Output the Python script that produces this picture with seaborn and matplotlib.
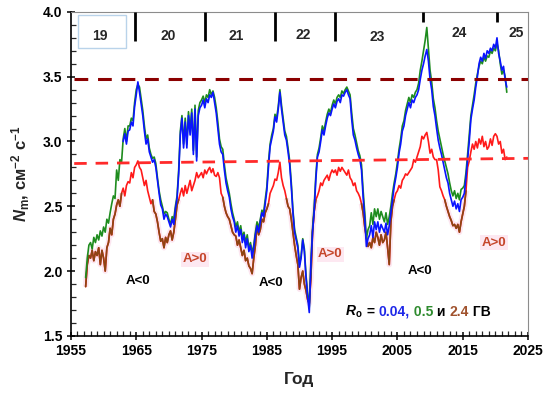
import numpy as np
import pandas as pd
import matplotlib
matplotlib.use("Agg")
import matplotlib.pyplot as plt
import matplotlib.transforms as mtransforms
from matplotlib.patches import Rectangle
from matplotlib.ticker import MultipleLocator, FixedLocator, FormatStrFormatter
import seaborn as sns

nan = np.nan
# quarterly values (year.00, .25, .50, .75) from 1957 to 2021
blue = [
    nan, nan, nan, nan,   # 1957
    nan, nan, nan, nan,   # 1958
    nan, nan, nan, nan,   # 1959
    nan, nan, nan, nan,   # 1960
    nan, nan, nan, nan,   # 1961
    nan, nan, nan, nan,   # 1962
    3.00, 3.06, 2.98, 3.08,
    3.09, 3.15, 3.12, 3.27,
    3.36, 3.46, 3.38, 3.29,
    3.20, 3.08, 2.98, 3.02,
    2.92, 2.88, 2.84, 2.86,
    2.80, 2.70, 2.60, 2.51,
    2.48, 2.40, 2.44, 2.42,
    2.38, 2.34, 2.40, 2.36,
    2.48, 2.56, 2.75, 3.05,
    3.18, 2.95, 3.15, 2.95,
    3.20, 3.05, 3.22, 2.90,
    3.25, 2.85, 3.20, 3.26,
    3.28, 3.32, 3.26, 3.33,
    3.30, 3.36, 3.34, 3.38,
    3.30, 3.22, 3.10, 2.98,
    2.92, 2.90, 2.78, 2.68,
    2.62, 2.57, 2.48, 2.42,
    2.38, 2.30, 2.35, 2.27,
    2.32, 2.22, 2.28, 2.18,
    2.25, 2.15, 2.20, 2.10,
    2.18, 2.28, 2.35, 2.30,
    2.38, 2.45, 2.42, 2.52,
    2.62, 2.80, 2.96, 3.02,
    3.08, 3.19, 3.15, 3.25,
    3.38, 3.25, 3.15, 3.05,
    3.01, 2.92, 2.82, 2.65,
    2.45, 2.30, 2.24, 2.18,
    2.03, 2.10, 2.24, 2.15,
    1.95, 1.80, 1.68, 2.05,
    2.30, 2.46, 2.70, 2.88,
    2.92, 3.00, 3.09, 3.05,
    3.12, 3.18, 3.22, 3.20,
    3.25, 3.29, 3.26, 3.31,
    3.33, 3.30, 3.36, 3.35,
    3.38, 3.40, 3.36, 3.33,
    3.17, 3.05, 3.01, 2.95,
    2.90, 2.86, 2.78, 2.57,
    2.40, 2.19, 2.25, 2.28,
    2.35, 2.26, 2.38, 2.32,
    2.38, 2.30, 2.36, 2.33,
    2.30, 2.37, 2.28, 2.35,
    2.45, 2.55, 2.65, 2.72,
    2.80, 2.91, 2.98, 3.08,
    3.12, 3.20, 3.25, 3.30,
    3.26, 3.32, 3.30, 3.34,
    3.36, 3.40, 3.48, 3.55,
    3.60, 3.66, 3.71, 3.62,
    3.48, 3.40, 3.27, 3.20,
    3.10, 3.01, 2.95, 2.90,
    2.84, 2.78, 2.72, 2.68,
    2.60, 2.55, 2.50, 2.54,
    2.48, 2.52, 2.46, 2.55,
    2.57, 2.60, 2.72, 2.86,
    3.00, 3.17, 3.25, 3.32,
    3.42, 3.50, 3.60, 3.65,
    3.62, 3.68, 3.64, 3.70,
    3.68, 3.72, 3.70, 3.75,
    3.72, 3.80, 3.68, 3.62,
    3.55, 3.58, 3.48, 3.42,
]
green = [
    nan, 1.95, 2.10, 2.20,
    2.22, 2.17, 2.26, 2.22,
    2.28, 2.24, 2.31, 2.27,
    2.34, 2.30, 2.40, 2.37,
    2.45, 2.52, 2.58, 2.56,
    2.78, 2.70, 2.86, 2.84,
    3.02, 3.10, 3.00, 3.12,
    3.12, 3.18, 3.16, 3.30,
    3.40, 3.44, 3.42, 3.33,
    3.24, 3.12, 3.02, 3.05,
    2.95, 2.90, 2.87, 2.88,
    2.83, 2.72, 2.62, 2.55,
    2.50, 2.44, 2.46, 2.45,
    2.40, 2.36, 2.42, 2.40,
    2.50, 2.58, 2.78, 3.08,
    3.20, 2.98, 3.18, 2.98,
    3.23, 3.08, 3.25, 2.93,
    3.28, 2.88, 3.24, 3.30,
    3.32, 3.35, 3.30, 3.36,
    3.34, 3.40, 3.36, 3.39,
    3.34, 3.26, 3.15, 3.02,
    2.96, 2.94, 2.82, 2.72,
    2.66, 2.60, 2.52, 2.45,
    2.40, 2.34, 2.38, 2.30,
    2.35, 2.26, 2.30, 2.22,
    2.28, 2.18, 2.22, 2.14,
    2.20, 2.30, 2.38, 2.33,
    2.40, 2.47, 2.45, 2.55,
    2.65, 2.84, 2.98, 3.05,
    3.10, 3.21, 3.18, 3.27,
    3.40, 3.28, 3.18, 3.08,
    3.04, 2.95, 2.85, 2.68,
    2.47, 2.32, 2.26, 2.20,
    2.05, 2.12, 2.25, 2.17,
    1.97, 1.83, 1.72, 2.08,
    2.33, 2.50, 2.73, 2.90,
    2.95, 3.03, 3.12, 3.08,
    3.15, 3.21, 3.25, 3.22,
    3.28, 3.32, 3.29, 3.34,
    3.36, 3.34, 3.39, 3.37,
    3.40, 3.42, 3.39, 3.36,
    3.22, 3.10, 3.05, 2.99,
    2.93, 2.89, 2.82, 2.62,
    2.45, 2.25, 2.32, 2.35,
    2.45, 2.36, 2.48, 2.42,
    2.48, 2.40, 2.46, 2.42,
    2.38, 2.45, 2.36, 2.42,
    2.50, 2.60, 2.68, 2.75,
    2.84, 2.94, 3.02, 3.12,
    3.16, 3.24, 3.29, 3.34,
    3.30, 3.36, 3.34, 3.38,
    3.40, 3.45, 3.55, 3.62,
    3.70, 3.78, 3.88, 3.72,
    3.55, 3.46, 3.33, 3.26,
    3.16, 3.08, 3.02, 2.96,
    2.90, 2.85, 2.80, 2.75,
    2.68, 2.62, 2.58, 2.62,
    2.56, 2.60, 2.55, 2.63,
    2.64, 2.66, 2.76, 2.90,
    3.05, 3.20, 3.28, 3.36,
    3.45, 3.52, 3.58, 3.62,
    3.60, 3.65, 3.62, 3.66,
    3.65, 3.70, 3.68, 3.72,
    3.70, 3.76, 3.70, 3.60,
    3.52, 3.55, 3.50, 3.38,
]
red = [
    nan, 1.88, 2.05, 2.12,
    2.10, 2.16, 2.08, 2.15,
    2.12, 2.18, 2.05, 2.16,
    2.10, 2.00, 2.18, 2.22,
    2.33, 2.28, 2.40, 2.44,
    2.51, 2.55, 2.50, 2.60,
    2.64, 2.58, 2.66, 2.69,
    2.68, 2.76, 2.72, 2.80,
    2.82, 2.85, 2.80, 2.78,
    2.72, 2.66, 2.70, 2.62,
    2.57, 2.52, 2.55, 2.46,
    2.44, 2.38, 2.30, 2.23,
    2.25, 2.18, 2.26, 2.22,
    2.28, 2.31, 2.24, 2.30,
    2.40, 2.51, 2.55, 2.60,
    2.64, 2.58, 2.66, 2.60,
    2.65, 2.70, 2.62, 2.66,
    2.70, 2.76, 2.72, 2.74,
    2.76, 2.72, 2.78, 2.75,
    2.78, 2.80, 2.76, 2.79,
    2.74, 2.73, 2.76, 2.72,
    2.60, 2.57, 2.50, 2.45,
    2.42, 2.40, 2.35, 2.30,
    2.28, 2.27, 2.20, 2.24,
    2.18, 2.12, 2.16, 2.08,
    2.10, 2.04, 2.02, 1.98,
    2.10, 2.20, 2.35, 2.28,
    2.32, 2.40, 2.38, 2.45,
    2.48, 2.52, 2.60, 2.63,
    2.66, 2.71, 2.70, 2.76,
    2.84, 2.72, 2.66, 2.62,
    2.56, 2.50, 2.48, 2.40,
    2.30, 2.20, 2.12, 2.05,
    1.86, 1.95, 2.00, 1.90,
    1.85, 1.78, 1.75, 1.95,
    2.30, 2.46, 2.55, 2.58,
    2.62, 2.68, 2.66, 2.70,
    2.72, 2.74, 2.70, 2.75,
    2.78, 2.76, 2.78, 2.74,
    2.80, 2.77, 2.80, 2.78,
    2.76, 2.74, 2.78, 2.72,
    2.70, 2.66, 2.68, 2.62,
    2.60, 2.57, 2.52, 2.45,
    2.34, 2.26, 2.19, 2.22,
    2.18, 2.26, 2.22, 2.30,
    2.26, 2.20, 2.28, 2.22,
    2.24, 2.30, 2.18, 2.05,
    2.38, 2.50, 2.55, 2.60,
    2.62, 2.66, 2.64, 2.70,
    2.72, 2.75, 2.74, 2.76,
    2.78, 2.80, 2.86, 2.84,
    2.88, 2.92, 2.96, 3.04,
    3.02, 3.05, 3.07, 3.00,
    2.91, 2.94, 2.88, 2.86,
    2.86, 2.78, 2.65, 2.62,
    2.58, 2.55, 2.50, 2.46,
    2.42, 2.39, 2.35, 2.36,
    2.33, 2.36, 2.30, 2.38,
    2.44, 2.50, 2.62, 2.80,
    2.85, 2.92, 2.98, 2.94,
    3.00, 2.95, 3.02, 2.98,
    3.04, 2.96, 3.00, 2.94,
    2.96, 3.02, 2.97, 3.04,
    3.06, 3.04, 2.98, 3.00,
    2.91, 2.94, 2.86, 2.88,
]
years = 1957.0 + 0.25 * np.arange(len(blue))

series_names = ["2.4 ГВ", "0.5 ГВ", "0.04 ГВ"]
series_colors = ["#FF1A1A", "#1E8C1E", "#0A14FF"]
brown = "#8B4513"

x_ticks = [1955, 1965, 1975, 1985, 1995, 2005, 2015, 2025]
y_ticks = [1.5, 2.0, 2.5, 3.0, 3.5, 4.0]

ref_high = 3.48                 # dark red dashed level
ref_low = [2.83, 2.87]          # red dashed level at 1955.5 and 2025
ref_low_x = [1955.5, 2025.0]

cycle_nums = ["19", "20", "21", "22", "23", "24", "25"]
cycle_label_x = [1959.4, 1969.9, 1980.3, 1990.5, 2001.9, 2014.4, 2023.2]
cycle_label_y = [3.815, 3.815, 3.815, 3.82, 3.81, 3.84, 3.84]
cycle_bounds = [1964.8, 1975.5, 1986.2, 1995.4, 2008.9, 2020.2]
cycle_bound_bottom = [3.776, 3.776, 3.776, 3.776, 3.92, 3.92]

polarity_text = ["A<0", "A>0", "A<0", "A>0", "A<0", "A>0"]
polarity_x = [1965.3, 1974.0, 1985.6, 1994.7, 2008.5, 2019.8]
polarity_y = [1.92, 2.09, 1.91, 2.13, 2.00, 2.22]

# ---------------------------------------------------------------
sns.set_style("ticks")
plt.rcParams["font.family"] = ["Liberation Sans", "DejaVu Sans"]
plt.rcParams["font.weight"] = "bold"
plt.rcParams["mathtext.fontset"] = "custom"
plt.rcParams["mathtext.rm"] = "Liberation Sans:bold"
plt.rcParams["mathtext.it"] = "Liberation Sans:italic:bold"
plt.rcParams["mathtext.bf"] = "Liberation Sans:bold"

fig = plt.figure(figsize=(5.5, 3.97), dpi=100)
ax = fig.add_axes([0.129, 0.154, 0.831, 0.816])

df = pd.DataFrame({
    "year": np.concatenate([years] * 3),
    "value": np.concatenate([red, green, blue]),
    "series": np.repeat(series_names, len(years)),
})

# red (2.4 GV)
sns.lineplot(data=df[df.series == series_names[0]], x="year", y="value",
             color=series_colors[0], lw=1.2, estimator=None, ax=ax, legend=False)
# brownish lower part of the 2.4 GV curve
r = np.array(red)
low = r < 2.52
lowx = low | np.roll(low, 1) | np.roll(low, -1)
r_low = np.where(lowx, r, np.nan)
ax.plot(years, r_low, color="#fce6f0", lw=4, zorder=1.5, solid_capstyle="butt")
ax.plot(years, r_low, color=brown, lw=1.2, zorder=2.2)
sns.lineplot(data=df[df.series == series_names[1]], x="year", y="value",
             color=series_colors[1], lw=1.2, estimator=None, ax=ax, legend=False)
sns.lineplot(data=df[df.series == series_names[2]], x="year", y="value",
             color=series_colors[2], lw=1.2, estimator=None, ax=ax, legend=False)
ax.lines[-2].set_zorder(2.5)
ax.lines[-1].set_zorder(2.6)

# reference dashed lines
ax.plot([1955.5, 2025], [ref_high, ref_high], color="#8B0000", lw=2.2,
        dashes=(4.5, 3.2), zorder=3)
ax.plot(ref_low_x, ref_low, color="#FF2A2A", lw=2.0, dashes=(4.5, 3.2), zorder=3)

# cycle markers
ax.vlines(cycle_bounds, cycle_bound_bottom, 4.0, color="black", lw=2.0, zorder=4)
for s, x, y in zip(cycle_nums, cycle_label_x, cycle_label_y):
    ax.text(x, y, s, ha="center", va="center", fontsize=10, fontweight="bold")
ax.add_patch(Rectangle((1956.1, 3.72), 7.3, 0.255, fill=False,
                       edgecolor="#B9D3EA", lw=1.0, zorder=4))

for s, x, y in zip(polarity_text, polarity_x, polarity_y):
    if s == "A<0":
        ax.text(x, y, s, ha="center", va="center", fontsize=9.5,
                fontweight="bold", color="black")
    else:
        ax.text(x, y, s, ha="center", va="center", fontsize=9.5,
                fontweight="bold", color="#C5452A",
                bbox=dict(boxstyle="square,pad=0.1", fc="#fde8f1", ec="none"))

# multicoloured R_o legend
pieces = [(r"$R_\mathrm{o}$", "black"), (" = ", "black"), ("0.04,", "#1E28E8"),
          (" 0.5", "#2E8B2E"), (" и ", "black"), ("2.4", "#A0522D"),
          (" ГВ", "black")]
fig.canvas.draw()
renderer = fig.canvas.get_renderer()
trans = ax.transData
x0, y0 = 1997.0, 1.655
for s, c in pieces:
    t = ax.text(x0, y0, s, color=c, transform=trans, fontsize=10,
                fontweight="bold", va="baseline", ha="left")
    t.draw(renderer)
    ex = t.get_window_extent(renderer)
    trans = mtransforms.offset_copy(t.get_transform(), fig=fig, x=ex.width, units="dots")

# axes
ax.set_xlim(1955, 2025)
ax.set_ylim(1.5, 4.0)
ax.xaxis.set_major_locator(FixedLocator(x_ticks))
ax.xaxis.set_minor_locator(MultipleLocator(1))
ax.yaxis.set_major_locator(FixedLocator(y_ticks))
ax.yaxis.set_minor_locator(MultipleLocator(0.1))
ax.yaxis.set_major_formatter(FormatStrFormatter("%.1f"))
ax.xaxis.set_major_formatter(FormatStrFormatter("%d"))
ax.tick_params(which="major", direction="inout", length=6, width=1.1,
               labelsize=10, colors="black", pad=3)
ax.tick_params(which="minor", direction="in", length=3.5, width=0.9)
for lab in ax.get_xticklabels() + ax.get_yticklabels():
    lab.set_fontweight("bold")

for side in ["left", "bottom"]:
    ax.spines[side].set_color("black")
    ax.spines[side].set_linewidth(1.2)
for side in ["top", "right"]:
    ax.spines[side].set_color("#8c8c8c")
    ax.spines[side].set_linewidth(0.8)

ax.set_xlabel("Год", fontsize=12.5, fontweight="bold", labelpad=10)
ax.set_ylabel(r"$N_\mathrm{m}$, см$^{-2}$ с$^{-1}$", fontsize=12,
              fontweight="bold", labelpad=8)

fig.savefig("out.png", dpi=100)
